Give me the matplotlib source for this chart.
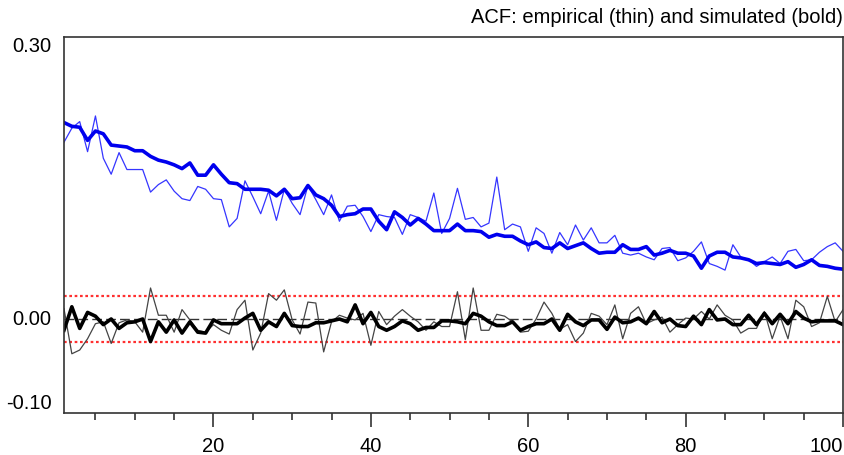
import numpy as np
import matplotlib
matplotlib.use("Agg")
import matplotlib.pyplot as plt

plt.rcParams['font.family'] = ['Liberation Sans', 'DejaVu Sans']

lags = np.arange(1, 101)

# squared returns: empirical / simulated acf
emp_sq = [0.188, 0.203, 0.210, 0.178, 0.216, 0.171, 0.154, 0.177, 0.159, 0.159,
          0.159, 0.135, 0.143, 0.148, 0.136, 0.128, 0.126, 0.141, 0.138, 0.128,
          0.127, 0.098, 0.107, 0.147, 0.130, 0.112, 0.136, 0.105, 0.138, 0.123,
          0.111, 0.142, 0.127, 0.111, 0.132, 0.104, 0.120, 0.121, 0.109, 0.093,
          0.111, 0.109, 0.108, 0.090, 0.111, 0.108, 0.104, 0.134, 0.091, 0.107,
          0.139, 0.106, 0.108, 0.098, 0.102, 0.151, 0.095, 0.101, 0.098, 0.072,
          0.097, 0.091, 0.070, 0.092, 0.079, 0.100, 0.084, 0.097, 0.081, 0.081,
          0.089, 0.070, 0.068, 0.070, 0.066, 0.063, 0.075, 0.076, 0.062, 0.065,
          0.072, 0.082, 0.059, 0.056, 0.052, 0.079, 0.066, 0.063, 0.056, 0.061,
          0.066, 0.059, 0.072, 0.074, 0.062, 0.063, 0.071, 0.077, 0.081, 0.072]
sim_sq = [0.209, 0.205, 0.204, 0.190, 0.200, 0.197, 0.185, 0.184, 0.183, 0.179,
          0.179, 0.173, 0.169, 0.167, 0.164, 0.160, 0.166, 0.153, 0.153, 0.164,
          0.154, 0.145, 0.144, 0.138, 0.138, 0.138, 0.137, 0.131, 0.138, 0.128,
          0.129, 0.142, 0.132, 0.128, 0.121, 0.109, 0.111, 0.112, 0.117, 0.117,
          0.104, 0.095, 0.114, 0.108, 0.100, 0.107, 0.101, 0.094, 0.094, 0.094,
          0.101, 0.094, 0.094, 0.093, 0.087, 0.090, 0.088, 0.088, 0.083, 0.079,
          0.082, 0.076, 0.075, 0.081, 0.075, 0.078, 0.081, 0.075, 0.070, 0.071,
          0.071, 0.079, 0.074, 0.074, 0.077, 0.068, 0.070, 0.073, 0.070, 0.070,
          0.067, 0.054, 0.067, 0.071, 0.071, 0.066, 0.065, 0.063, 0.059, 0.060,
          0.059, 0.058, 0.061, 0.055, 0.058, 0.063, 0.057, 0.056, 0.054, 0.053]

# raw returns
emp_ret = [0.011, -0.037, -0.033, -0.021, -0.005, -0.003, -0.026, -0.004, -0.001, -0.003,
           -0.014, 0.033, 0.004, 0.004, -0.014, 0.010, -0.001, -0.012, -0.014, -0.006,
           -0.012, -0.016, 0.010, 0.020, -0.033, -0.015, 0.027, 0.020, 0.031, -0.001,
           -0.016, 0.018, 0.017, -0.035, -0.003, 0.004, 0.001, -0.001, 0.006, -0.028,
           0.008, -0.006, 0.003, 0.010, 0.003, -0.003, -0.012, -0.003, -0.008, -0.008,
           0.029, -0.022, 0.033, -0.012, -0.012, 0.005, 0.003, -0.003, -0.014, -0.013,
           0.000, 0.018, 0.006, -0.011, -0.006, -0.024, -0.015, 0.006, 0.003, -0.006,
           0.015, -0.021, 0.006, 0.013, -0.005, -0.001, 0.002, -0.014, -0.006, 0.001,
           0.000, 0.008, 0.000, 0.015, 0.004, -0.001, -0.015, -0.010, -0.010, 0.008,
           -0.021, 0.003, -0.021, 0.020, 0.013, -0.008, -0.004, 0.024, -0.003, 0.010]
sim_ret = [-0.012, 0.013, -0.010, 0.007, 0.003, -0.006, 0.000, -0.010, -0.004, -0.003,
           0.000, -0.024, -0.003, -0.014, -0.001, -0.015, -0.003, -0.014, -0.015, -0.001,
           -0.005, -0.005, -0.005, 0.001, 0.006, -0.012, -0.003, -0.008, 0.006, -0.007,
           -0.008, -0.008, -0.004, -0.004, -0.002, 0.000, -0.003, 0.015, -0.005, 0.007,
           -0.008, -0.012, -0.008, -0.002, -0.005, -0.012, -0.009, -0.009, -0.002, -0.002,
           -0.003, -0.005, 0.006, 0.003, -0.003, -0.007, -0.007, -0.003, -0.012, -0.008,
           -0.005, -0.005, 0.000, -0.012, 0.005, -0.003, -0.007, -0.001, -0.001, -0.011,
           0.002, -0.004, -0.003, 0.001, -0.005, 0.008, -0.004, 0.000, -0.007, -0.008,
           0.003, -0.006, 0.010, -0.001, 0.000, -0.006, -0.006, 0.004, -0.006, 0.006,
           -0.005, 0.005, -0.005, 0.008, 0.001, -0.003, -0.002, -0.002, -0.002, -0.006]

band = 0.0245  # approx 2/sqrt(T)
xtick_vals = [20, 40, 60, 80, 100]
ytick_vals = [-0.10, 0.00, 0.30]
ytick_txt = ['-0.10', '0.00', '0.30']

fig = plt.figure(figsize=(8.45, 4.55), dpi=100)
ax = fig.add_axes([0.0757, 0.0923, 0.922, 0.8264])

ax.axhline(band, color='#ff3030', lw=1.6, ls=(0, (1.2, 1.2)))
ax.axhline(-band, color='#ff3030', lw=1.6, ls=(0, (1.2, 1.2)))
ax.axhline(0, color='#333333', lw=1.0, ls=(0, (7, 3)))

ax.plot(lags, emp_sq, color='#3535ff', lw=0.9)
ax.plot(lags, sim_sq, color='#0000ee', lw=2.6)
ax.plot(lags, emp_ret, color='#444444', lw=0.9)
ax.plot(lags, sim_ret, color='black', lw=2.6)

ax.set_xlim(1, 100)
ax.set_ylim(-0.10, 0.30)

ax.set_xticks(xtick_vals)
ax.set_xticks(np.arange(5, 101, 5), minor=True)
ax.tick_params(axis='x', which='major', length=10, width=1.2, direction='out',
               labelsize=14.5, pad=7, color='#333333')
ax.tick_params(axis='x', which='minor', length=5, width=1.2, direction='out', color='#333333')
# last label would stick out past the figure edge
ax.get_xticklabels()[-1].set_horizontalalignment('right')

ax.set_yticks(ytick_vals)
ax.set_yticklabels(ytick_txt)
ax.tick_params(axis='y', length=0, labelsize=14.5, pad=9)
for lab, va in zip(ax.get_yticklabels(), ['bottom', 'center', 'top']):
    lab.set_verticalalignment(va)

for s in ax.spines.values():
    s.set_linewidth(1.2)
    s.set_color('#333333')

fig.text(0.9976, 0.962, 'ACF: empirical (thin) and simulated (bold)',
         ha='right', va='center', fontsize=14.5)

fig.savefig('out.png', dpi=100)
